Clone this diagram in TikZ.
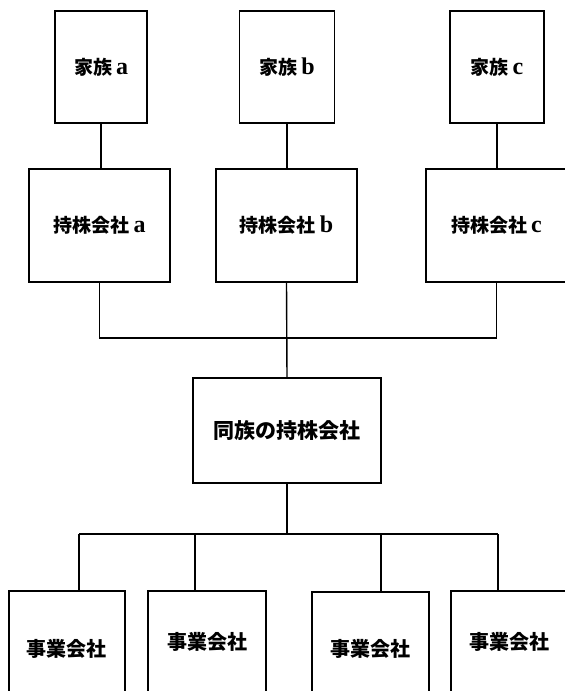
\documentclass[tikz,border=0pt]{standalone}
\usepackage{fontspec}
\setmainfont{Liberation Serif}
\newfontfamily\cjk{Noto Sans CJK JP}
\newcommand{\jp}[1]{{\cjk\bfseries #1}}
\newcommand{\lt}[1]{{\fontsize{24}{24}\selectfont\bfseries #1}}
\begin{document}
\begin{tikzpicture}[x=1pt,y=-1pt,
  box/.style={draw,line width=1.5pt,inner sep=0pt,font=\fontsize{19}{21}\selectfont},
  link/.style={line width=1.4pt}]
\useasboundingbox (0,0) rectangle (565,691);
\clip (0,0) rectangle (565,691);
% family boxes
\node[box,minimum width=92pt,minimum height=112pt] (fa) at (101,67) {\jp{家族}\hspace{4pt}\lt{a}};
\node[box,minimum width=95pt,minimum height=112pt] (fb) at (287,67) {\jp{家族}\hspace{4pt}\lt{b}};
\node[box,minimum width=94pt,minimum height=112pt] (fc) at (497,67) {\jp{家族}\hspace{4pt}\lt{c}};
% holding companies
\node[box,minimum width=141pt,minimum height=113pt] (ha) at (99.5,225.5) {\jp{持株会社}\hspace{4pt}\lt{a}};
\node[box,minimum width=141pt,minimum height=113pt] (hb) at (286.5,225.5) {\jp{持株会社}\hspace{4pt}\lt{b}};
\node[box,minimum width=141pt,minimum height=113pt] (hc) at (496.5,225.5) {\jp{持株会社}\hspace{4pt}\lt{c}};
% family holding company
\node[box,minimum width=188pt,minimum height=105pt,font=\fontsize{21}{23}\selectfont] (dz) at (287,430.5) {\jp{同族の持株会社}};
% operating companies
\node[box,minimum width=116pt,minimum height=116pt,font=\fontsize{20}{22}\selectfont] (j1) at (67,649) {\jp{事業会社}};
\node[box,minimum width=118pt,minimum height=102pt,font=\fontsize{20}{22}\selectfont] (j2) at (207,642) {\jp{事業会社}};
\node[box,minimum width=117pt,minimum height=114pt,font=\fontsize{20}{22}\selectfont] (j3) at (370.5,649) {\jp{事業会社}};
\node[box,minimum width=116pt,minimum height=102pt,font=\fontsize{20}{22}\selectfont] (j4) at (509,642) {\jp{事業会社}};
% connectors family -> holding
\draw[link] (fa.south) -- (fa.south |- ha.north);
\draw[link] (fb.south) -- (fb.south |- hb.north);
\draw[link] (fc.south) -- (fc.south |- hc.north);
% upper bus
\coordinate (bus1) at (286.5,338);
\draw[link] (ha.south) |- (bus1) -| (hc.south);
\draw[link] (hb.south) -- (dz.north);
% lower bus
\coordinate (t1) at (79,534);
\coordinate (t2) at (195,534);
\coordinate (t3) at (381,534);
\coordinate (t4) at (498,534);
\draw[link] (dz.south) -- (dz.south |- t1);
\draw[link] (t1) -- (t4);
\draw[link] (t1) -- (t1 |- j1.north);
\draw[link] (t2) -- (t2 |- j2.north);
\draw[link] (t3) -- (t3 |- j3.north);
\draw[link] (t4) -- (t4 |- j4.north);
\end{tikzpicture}
\end{document}
